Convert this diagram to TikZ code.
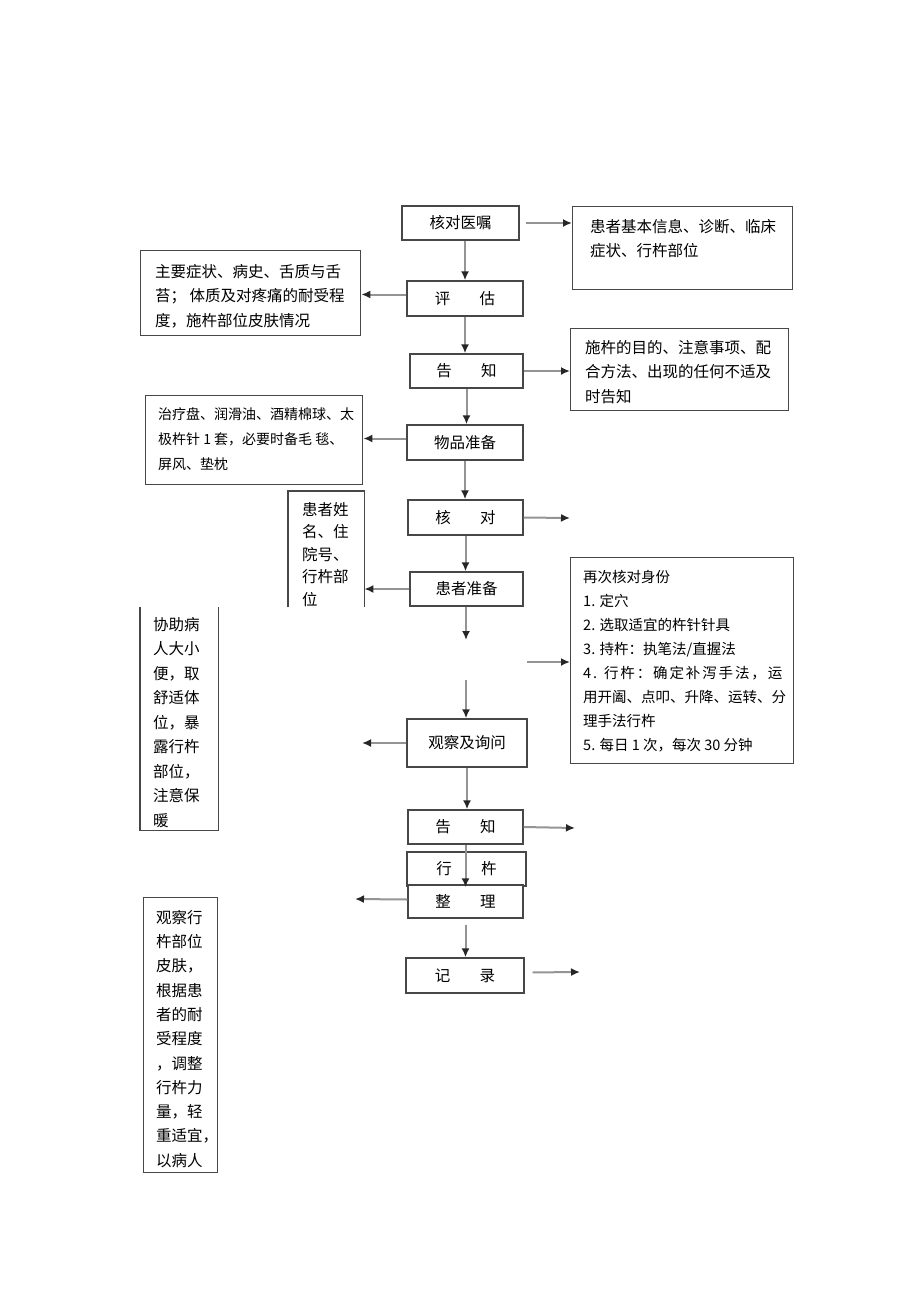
\documentclass[tikz,border=0pt]{standalone}
\usepackage{fontspec}
\setmainfont{Noto Sans CJK SC}
\usetikzlibrary{arrows.meta}
\begin{document}
\begin{tikzpicture}[
 x=1pt,y=-1pt,
 bx/.style={draw=black!72, line width=1.4pt},
 cbox/.style={bx, rectangle, inner sep=0pt, font=\fontsize{15.5}{24}\selectfont},
 frame/.style={rectangle, inner sep=0pt, anchor=north west},
 txt/.style={anchor=north west, inner sep=0pt, align=left, font=\fontsize{15.5}{24.5}\selectfont},
 arr/.style={draw=black!42, line width=2pt, -{Latex[length=9pt,width=8pt,color=black!85]}},
]
\fill[white] (0,0) rectangle (920,1301);
\useasboundingbox (0,0) rectangle (920,1301);

% central boxes
\node[cbox, minimum width=117, minimum height=34] (a1) at (460.5,223) {核对医嘱};
\node[cbox, minimum width=116, minimum height=35] (a2) at (465,298.5) {评\hspace{1.9em}估};
\node[cbox, minimum width=113, minimum height=34] (a3) at (466.5,371) {告\hspace{1.9em}知};
\node[cbox, minimum width=116, minimum height=35] (a4) at (465,442.5) {物品准备};
\node[cbox, minimum width=115, minimum height=35] (a5) at (465.5,517.5) {核\hspace{1.9em}对};
\node[cbox, minimum width=113, minimum height=34] (a6) at (466.5,589) {患者准备};
\node[cbox, minimum width=120, minimum height=48] (a7) at (467,743) {观察及询问};
\node[cbox, minimum width=115, minimum height=34] (a8) at (465.5,827) {告\hspace{1.9em}知};
\node[cbox, minimum width=119, minimum height=34] (a9) at (466.5,869) {行\hspace{1.9em}杵};
\node[cbox, fill=white, minimum width=115, minimum height=33] (a10) at (465.5,901.5) {整\hspace{1.9em}理};
\node[cbox, minimum width=118, minimum height=35] (a11) at (465,975.5) {记\hspace{1.9em}录};

% right boxes
\node[frame, bx, minimum width=220, minimum height=83] (r1) at (572,206) {};
\node[txt] (r1t) at (590,219) {患者基本信息、诊断、临床\\症状、行杵部位};
\node[frame, bx, minimum width=218, minimum height=82] (r2) at (570,328) {};
\node[txt] (r2t) at (585,340) {施杵的目的、注意事项、配\\合方法、出现的任何不适及\\时告知};
\node[frame, bx, minimum width=223, minimum height=206] (r3) at (570,557) {};
\node[txt, font=\fontsize{14.5}{24}\selectfont] (r3t) at (583,570) {再次核对身份\\1. 定穴\\2. 选取适宜的杵针针具\\3. 持杵：执笔法/直握法\\{\addfontfeatures{LetterSpace=13}4. 行杵：确定补泻手法，运}\\用开阖、点叩、升降、运转、分\\理手法行杵\\5. 每日 1 次，每次 30 分钟};

% left boxes
\node[frame, bx, minimum width=220, minimum height=85] (l1) at (140,250) {};
\node[txt] (l1t) at (155,264) {主要症状、病史、舌质与舌\\苔； 体质及对疼痛的耐受程\\度，施杵部位皮肤情况};
\node[frame, bx, minimum width=217, minimum height=89] (l2) at (145,395) {};
\node[txt, font=\fontsize{14}{25}\selectfont] (l2t) at (158,407) {治疗盘、润滑油、酒精棉球、太\\极杵针 1 套，必要时备毛 毯、\\屏风、垫枕};
\node[frame, minimum width=76, minimum height=116] (l3) at (288,491) {};
\draw[bx] (l3.south west) -- (l3.north west) -- (l3.north east) -- (l3.south east);
\node[txt, font=\fontsize{15.5}{22.5}\selectfont] (l3t) at (302,502) {患者姓\\名、住\\院号、\\行杵部\\位};
\node[frame, minimum width=78, minimum height=223] (l4) at (140,607) {};
\draw[bx] (l4.north west) -- (l4.south west) -- (l4.south east) -- (l4.north east);
\node[txt] (l4t) at (153,617) {协助病\\人大小\\便，取\\舒适体\\位，暴\\露行杵\\部位，\\注意保\\暖};
\node[frame, bx, minimum width=74, minimum height=275] (l5) at (143,897) {};
\node[txt, font=\fontsize{15.5}{24.3}\selectfont] (l5t) at (156,910) {观察行\\杵部位\\皮肤，\\根据患\\者的耐\\受程度\\，调整\\行杵力\\量，轻\\重适宜，\\以病人};

% free ends
\coordinate (c1) at (570,518);
\coordinate (c2) at (466,640);
\coordinate (c3) at (527,662);
\coordinate (c4) at (466,680);
\coordinate (c5) at (362,743);
\coordinate (c6) at (575,828);
\coordinate (c7) at (355,899);
\coordinate (c8) at (580,972);

% connectors
\draw[arr, shorten <=6pt] (a1.east) -- (a1.east -| r1.west);
\draw[arr] (a1.south -| a2) -- (a2.north);
\draw[arr] ([yshift=4pt]a2.west) -- ([yshift=4pt]a2.west -| l1.east);
\draw[arr] (a2.south) -- (a2.south |- a3.north);
\draw[arr] (a3.east) -- (a3.east -| r2.west);
\draw[arr] (a3.south) -- (a3.south |- a4.north);
\draw[arr] ([yshift=4pt]a4.west) -- ([yshift=4pt]a4.west -| l2.east);
\draw[arr] (a4.south) -- (a4.south |- a5.north);
\draw[arr] (a5.east) -- (c1);
\draw[arr] (a5.south) -- (a5.south |- a6.north);
\draw[arr] (a6.west) -- (a6.west -| l3.east);
\draw[arr] (a6.south -| c2) -- (c2);
\draw[arr] (c3) -- (c3 -| r3.west);
\draw[arr] (c4) -- (c4 |- a7.north);
\draw[arr] (a7.west) -- (c5);
\draw[arr] (a7.south) -- (a7.south |- a8.north);
\draw[arr] (a8.east) -- (c6);
\draw[arr] (a8.south) -- ([yshift=-3pt]a8.south |- a10.north);
\draw[arr] ([yshift=2pt]a10.west) -- (c7);
\draw[arr, shorten <=6pt] (a10.south) -- (a10.south |- a11.north);
\draw[arr, shorten <=8pt] ([yshift=3pt]a11.east) -- (c8);
\end{tikzpicture}
\end{document}
